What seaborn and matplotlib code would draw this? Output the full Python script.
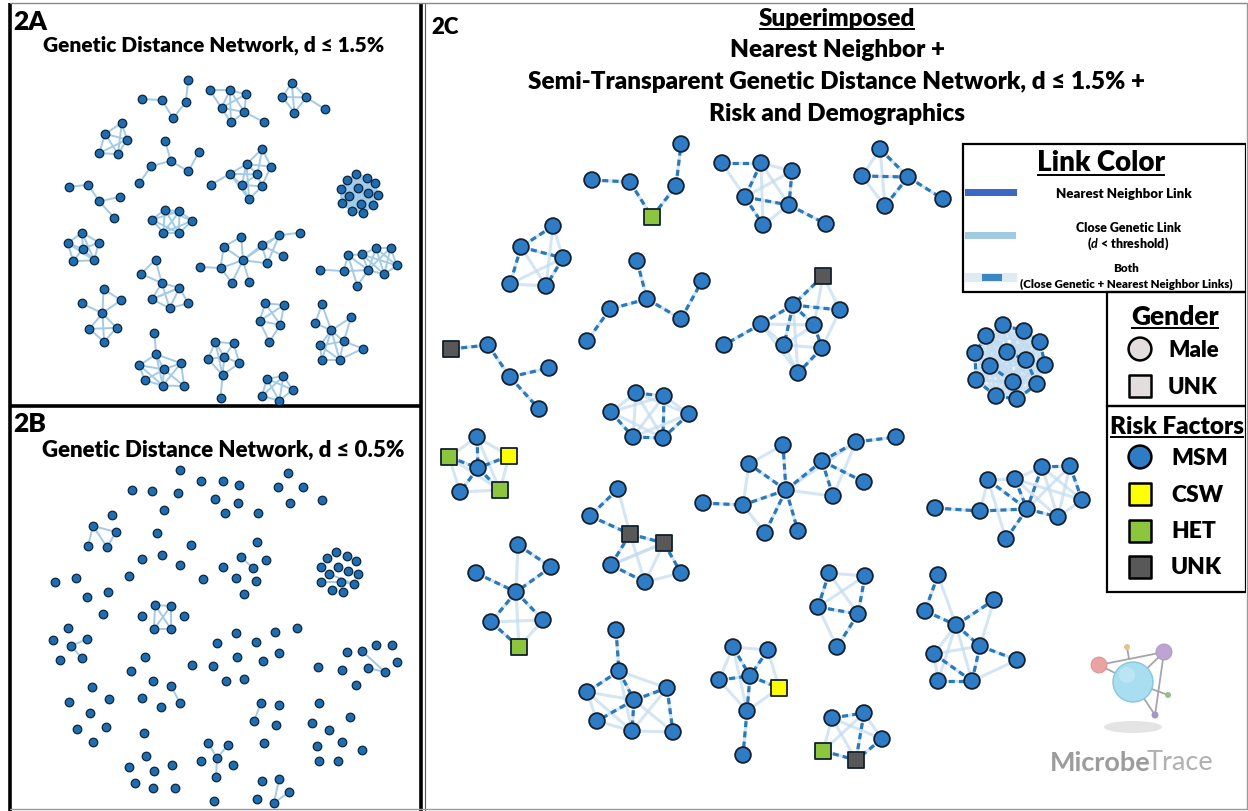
import itertools
import numpy as np
import pandas as pd
import matplotlib
matplotlib.use("Agg")
import matplotlib.pyplot as plt
from matplotlib.collections import LineCollection
from matplotlib.patches import Rectangle, Circle, Ellipse
import seaborn as sns

# ------------------------------------------------------------------
# DATA
# Panel 2C layout (2A shows the same network drawn smaller)
node_ids = [
    "a1", "a2", "a3", "a4", "a5",
    "b1", "b2", "b3", "b4", "b5",
    "c1", "c2", "c3", "c4", "c5", "c6",
    "d1", "d2", "d3", "d4", "d5",
    "e1", "e2", "e3", "e4", "e5", "e6", "e7",
    "f1", "f2", "f3", "f4", "f5",
    "g1", "g2", "g3", "g4", "g5", "g6", "g7", "g8", "g9",
    "h1", "h2", "h3", "h4", "h5", "h6",
    "i1", "i2", "i3", "i4", "i5", "i6", "i7",
    "j1", "j2", "j3", "j4", "j5", "j6", "j7",
    "k1", "k2", "k3", "k4", "k5", "k6",
    "l1", "l2", "l3", "l4", "l5", "l6", "l7", "l8", "l9", "l10", "l11", "l12",
    "n1", "n2", "n3", "n4", "n5", "n6", "n7", "n8", "n9", "n10", "n11", "n12", "n13", "n14",
    "m1", "m2", "m3", "m4", "m5", "m6", "m7", "m8", "m9", "m10",
    "o1", "o2", "o3", "o4", "o5", "o6", "o7", "o8",
    "p1", "p2", "p3", "p4", "p5", "p6", "p7",
    "q1", "q2", "q3", "q4", "q5",
    "r1", "r2", "r3", "r4", "r5", "r6", "r7", "r8", "r9",
    "s1", "s2", "s3", "s4", "s5",
]
node_x = [
    592, 630, 652, 676, 681,
    553, 521, 563, 510, 546,
    637, 647, 610, 587, 681, 702,
    451, 488, 510, 549, 539,
    722, 761, 792, 745, 789, 763, 826,
    880, 862, 908, 885, 943,
    823, 793, 840, 761, 814, 724, 784, 822, 798,
    477, 449, 509, 478, 460, 500,
    618, 590, 630, 664, 611, 645, 681,
    518, 551, 476, 516, 491, 543, 519,
    636, 664, 611, 689, 633, 663,
    783, 749, 822, 856, 896, 864, 786, 833, 703, 743, 765, 798,
    1003, 1024, 986, 1040, 975, 1007, 990, 1026, 1045, 976, 1013, 1037, 996, 1017,
    935, 980, 988, 1015, 1042, 1070, 1082, 1027, 1058, 1006,
    616, 619, 587, 667, 634, 597, 632, 673,
    733, 768, 719, 750, 779, 747, 743,
    829, 865, 818, 858, 837,
    938, 994, 925, 956, 980, 1017, 934, 938, 972,
    832, 864, 882, 823, 856,
]
node_y = [
    181, 183, 218, 187, 145,
    227, 248, 259, 285, 287,
    262, 300, 310, 342, 320, 282,
    350, 346, 378, 369, 410,
    164, 164, 172, 198, 206, 226, 225,
    150, 177, 178, 207, 200,
    277, 306, 311, 325, 326, 346, 346, 349, 374,
    438, 458, 457, 469, 493, 491,
    490, 517, 535, 544, 566, 583, 574,
    546, 568, 574, 593, 623, 621, 648,
    394, 397, 413, 415, 438, 439,
    446, 465, 462, 443, 438, 483, 491, 497, 504, 506, 534, 532,
    326, 332, 337, 343, 354, 353, 367, 361, 366, 381, 383, 385, 397, 400,
    509, 512, 481, 480, 468, 467, 501, 510, 518, 540,
    631, 672, 693, 689, 701, 722, 732, 733,
    648, 651, 681, 677, 689, 712, 756,
    574, 577, 608, 615, 648,
    576, 601, 612, 626, 647, 661, 655, 682, 682,
    719, 714, 740, 752, 761,
]
# nodes that are not MSM / not male (all others: MSM, Male)
special_ids = ["a3", "d1", "g1", "h2", "h3", "h6", "i3", "i4", "j7", "p5", "s4", "s5"]
special_risk = ["HET", "UNK", "UNK", "HET", "CSW", "HET", "UNK", "UNK", "HET", "CSW", "HET", "UNK"]

# nearest-neighbour links (also close genetic links)
nn_edges = [
    "a1-a2", "a2-a3", "a3-a4", "a4-a5",
    "b1-b2", "b2-b3", "b2-b4", "b3-b5",
    "c1-c2", "c2-c3", "c3-c4", "c2-c5", "c5-c6",
    "d1-d2", "d2-d3", "d3-d4", "d3-d5",
    "e1-e2", "e2-e4", "e3-e5", "e4-e5", "e4-e6", "e5-e7",
    "f1-f3", "f2-f3", "f3-f4", "f3-f5",
    "g1-g2", "g2-g3", "g2-g4", "g2-g5", "g2-g7", "g4-g6", "g5-g8", "g8-g9",
    "h1-h4", "h2-h4", "h3-h4", "h4-h6", "h4-h5",
    "i1-i2", "i2-i3", "i3-i4", "i3-i5", "i5-i6", "i4-i7",
    "j1-j2", "j2-j4", "j3-j4", "j4-j5", "j4-j6", "j5-j7",
    "k1-k2", "k2-k6", "k3-k5", "k5-k6", "k4-k6",
    "l7-l1", "l7-l2", "l7-l3", "l7-l10", "l7-l11", "l7-l12", "l9-l10", "l3-l4", "l4-l5", "l3-l6", "l3-l8",
    "n1-n2", "n3-n5", "n5-n10", "n10-n13", "n13-n14", "n14-n12", "n7-n11", "n6-n8", "n4-n9", "n2-n4", "n8-n12",
    "m1-m2", "m2-m8", "m3-m8", "m4-m8", "m5-m8", "m5-m6", "m6-m7", "m8-m9", "m8-m10",
    "o1-o2", "o2-o3", "o2-o5", "o5-o4", "o5-o6", "o5-o7", "o4-o8",
    "p1-p4", "p2-p4", "p3-p4", "p4-p5", "p4-p6", "p6-p7",
    "q1-q3", "q2-q4", "q3-q4", "q4-q5",
    "r1-r3", "r3-r4", "r4-r2", "r4-r5", "r5-r6", "r5-r9", "r7-r9", "r8-r9",
    "s1-s2", "s2-s5", "s3-s5", "s4-s5",
]
# close genetic links only (d <= 1.5%)
gd_edges = [
    "b1-b3", "b4-b5", "b2-b5", "b1-b5", "b3-b4",
    "e2-e3", "e2-e5", "e3-e4", "e1-e4", "e5-e6", "e2-e6",
    "f1-f2", "f2-f4", "f1-f4",
    "g1-g3", "g1-g5", "g4-g7", "g4-g5", "g7-g9", "g5-g7", "g3-g8", "g7-g8", "g2-g9", "g4-g9",
    "h1-h2", "h1-h3", "h2-h5", "h5-h6", "h3-h6", "h1-h6", "h2-h6",
    "i1-i3", "i3-i6", "i4-i6", "i5-i4", "i6-i7", "i4-i5",
    "j1-j4", "j4-j7", "j5-j6", "j6-j7",
    "k1-k3", "k1-k4", "k2-k4", "k1-k5", "k1-k6", "k2-k5", "k3-k6", "k2-k3", "k4-k5",
    "l1-l2", "l2-l10", "l7-l8", "l4-l8", "l10-l11", "l7-l4",
    "m4-m5", "m5-m7", "m5-m9", "m6-m9", "m7-m9", "m4-m7", "m6-m8", "m3-m4", "m4-m9", "m2-m3", "m3-m10",
    "o3-o6", "o6-o7", "o7-o8", "o2-o4", "o3-o5", "o2-o7", "o4-o7", "o5-o8", "o3-o7",
    "p1-p2", "p1-p3", "p2-p5", "p3-p6", "p5-p6", "p1-p6",
    "q1-q2", "q1-q4", "q3-q5", "q2-q3",
    "r1-r4", "r4-r7", "r4-r8", "r4-r9", "r7-r8", "r7-r5", "r6-r9", "r2-r5",
    "s1-s4", "s1-s5", "s2-s4", "s1-s3", "s2-s3",
]
dense_cluster = ["n1", "n2", "n3", "n4", "n5", "n6", "n7", "n8", "n9", "n10", "n11", "n12", "n13", "n14"]

# Panel 2B layout (d <= 0.5%)
b_x = [180, 201, 223, 239, 288, 278, 303, 132, 152, 178, 215, 238, 290, 322, 164, 225, 258,
       112, 93, 116, 88, 107, 157, 191, 257, 142, 162, 180, 241, 266, 223, 253, 203, 236, 256,
       244, 129, 55, 76, 87, 108, 103, 155, 171, 142, 184, 154, 171, 68, 53, 71, 87, 60, 82,
       236, 275, 297, 217, 256, 279, 237, 263, 192, 213, 226, 244, 145, 131, 153, 171, 180,
       142, 161, 92, 109, 69, 90, 77, 106, 93, 144, 146, 129, 154, 172, 135, 153, 175, 208,
       228, 217, 201, 233, 216, 214, 261, 279, 254, 276, 264, 262, 279, 289, 257, 274, 318,
       342, 347, 362, 376, 392, 397, 368, 385, 356, 319, 350, 312, 329, 342, 317, 362, 319,
       338, 336, 327, 347, 356, 321, 338, 348, 329, 358, 321, 341, 354, 332, 343]
b_y = [471, 482, 482, 486, 474, 488, 488, 491, 492, 494, 500, 504, 504, 501, 511, 514, 514,
       516, 527, 533, 547, 548, 534, 546, 543, 560, 556, 566, 558, 561, 568, 569, 580, 579, 582,
       595, 577, 583, 579, 598, 593, 615, 606, 607, 617, 617, 630, 630, 629, 641, 647, 640, 661, 659,
       634, 633, 629, 644, 643, 654, 658, 662, 666, 667, 682, 680, 658, 672, 682, 687, 704,
       699, 708, 688, 700, 703, 714, 730, 728, 743, 734, 757, 768, 772, 766, 784, 789, 789, 744,
       746, 759, 762, 766, 778, 802, 704, 706, 722, 726, 744, 782, 780, 793, 800, 804, 668,
       671, 653, 652, 646, 646, 663, 669, 673, 686, 704, 718, 724, 731, 743, 747, 751, 762,
       762, 553, 559, 557, 562, 568, 568, 572, 575, 575, 583, 583, 585, 591, 593]
b_edges = [((93, 527), (116, 533)), ((93, 527), (88, 547)), ((93, 527), (107, 548)),
           ((116, 533), (107, 548)), ((155, 606), (171, 607)), ((155, 606), (154, 630)),
           ((155, 606), (171, 630)), ((171, 607), (154, 630)), ((171, 607), (171, 630)),
           ((154, 630), (171, 630)), ((71, 647), (87, 640)), ((71, 647), (82, 659)),
           ((241, 558), (253, 569)), ((171, 687), (180, 704)), ((261, 704), (254, 722)),
           ((208, 744), (217, 759)), ((228, 746), (217, 759)), ((217, 759), (216, 778)),
           ((279, 780), (274, 804)), ((289, 793), (274, 804)), ((362, 652), (385, 673)),
           ((368, 669), (385, 673)), ((321, 583), (341, 583)), ((341, 583), (354, 585)),
           ((329, 575), (354, 585))]

risk_levels = ["MSM", "CSW", "HET", "UNK"]
risk_colors = ["#2f7cc6", "#ffff00", "#8cc63e", "#585858"]
link_labels = ["Nearest Neighbor Link", "Close Genetic Link", "Both"]

# ------------------------------------------------------------------
W, H = 1248, 812
sns.set_theme(style="white")
plt.rcParams["font.family"] = ["Lato", "DejaVu Sans"]
plt.rcParams["mathtext.fontset"] = "custom"
plt.rcParams["mathtext.it"] = "Lato:italic:bold"
plt.rcParams["mathtext.rm"] = "Lato:bold"

fig = plt.figure(figsize=(W / 100, H / 100), dpi=100)
fig.patch.set_facecolor("white")
bg = fig.add_axes([0, 0, 1, 1])
bg.set_xlim(0, W)
bg.set_ylim(H, 0)
bg.set_axis_off()


def px_axes(x0, y0, x1, y1):
    ax = fig.add_axes([x0 / W, 1 - y1 / H, (x1 - x0) / W, (y1 - y0) / H])
    ax.set_axis_off()
    ax.patch.set_alpha(0)
    return ax


risk_of = dict(zip(special_ids, special_risk))
nodes = pd.DataFrame({"id": node_ids, "x": node_x, "y": node_y})
nodes["risk"] = [risk_of.get(i, "MSM") for i in node_ids]
nodes["gender"] = np.where(nodes["risk"] == "MSM", "Male", "UNK")
pos = dict(zip(node_ids, zip(node_x, node_y)))
palette = dict(zip(risk_levels, risk_colors))
markers = {"Male": "o", "UNK": "s"}


def segs(edges):
    out = []
    for e in edges:
        a, b = e.split("-")
        out.append([pos[a], pos[b]])
    return out


dense_edges = [f"{a}-{b}" for a, b in itertools.combinations(dense_cluster, 2)]
all_gd = nn_edges + gd_edges + dense_edges

# ---------------- panel frames ----------------
frame_kw = dict(color="black", lw=2.6, solid_capstyle="butt")
bg.plot([10, 10], [4, 812], **frame_kw)
bg.plot([421, 421], [4, 812], **frame_kw)
bg.plot([10, 421], [407, 407], **frame_kw)
bg.plot([425, 425], [4, 812], color="#555555", lw=0.8)
bg.plot([10, 1247], [4, 4], color="#888888", lw=1.0)
bg.plot([10, 1247], [810, 810], color="#999999", lw=1.0)
bg.plot([1246.5, 1246.5], [4, 810], color="#999999", lw=1.0)

# ---------------- 2A ----------------
ax_a = px_axes(12, 58, 420, 405)
ax_a.add_collection(LineCollection(segs(all_gd), colors="#a3cbe8", linewidths=1.4, zorder=1))
sns.scatterplot(data=nodes, x="x", y="y", ax=ax_a, color="#1f6db0", s=38,
                edgecolor="#0b2740", linewidth=0.9, legend=False, zorder=3)
ax_a.set_xlim(342, 1126.6)
ax_a.set_ylim(767.5, 100.2)
ax_a.set_axis_off()

# ---------------- 2B ----------------
ax_b = px_axes(12, 409, 420, 809)
ax_b.add_collection(LineCollection(b_edges, colors="#a3cbe8", linewidths=1.4, zorder=1))
bnodes = pd.DataFrame({"x": b_x, "y": b_y})
sns.scatterplot(data=bnodes, x="x", y="y", ax=ax_b, color="#1f6db0", s=38,
                edgecolor="#0b2740", linewidth=0.9, legend=False, zorder=3)
ax_b.set_xlim(12, 420)
ax_b.set_ylim(809, 409)
ax_b.set_axis_off()

# ---------------- 2C ----------------
ax_c = px_axes(426, 5, 1246, 809)
ax_c.add_collection(LineCollection(segs(gd_edges + dense_edges + nn_edges), colors="#c3dcf0",
                                   linewidths=2.2, alpha=0.7, zorder=1))
ax_c.add_collection(LineCollection(segs(nn_edges), colors="#2a79ba", linewidths=2.3,
                                   linestyles=[(0, (1.9, 1.3))], zorder=2))
sns.scatterplot(data=nodes, x="x", y="y", hue="risk", style="gender", palette=palette,
                markers=markers, ax=ax_c, s=128, edgecolor="#13202e", linewidth=1.3,
                legend=False, zorder=3)
ax_c.set_xlim(426, 1246)
ax_c.set_ylim(809, 5)
ax_c.set_axis_off()

# ---------------- titles ----------------
tkw = dict(fontweight="heavy", color="black")
bg.text(13, 22, "2A", fontsize=19, va="center", ha="left", **tkw)
bg.text(214, 45, "Genetic Distance Network, d \u2264 1.5%", fontsize=15, va="center", ha="center", **tkw)
bg.text(13, 424, "2B", fontsize=19, va="center", ha="left", **tkw)
bg.text(223, 450, "Genetic Distance Network, d \u2264 0.5%", fontsize=16, va="center", ha="center", **tkw)
bg.text(431, 27, "2C", fontsize=16, va="center", ha="left", **tkw)
TCX = 837
t_sup = bg.text(TCX, 19, "Superimposed", fontsize=17.5, va="center", ha="center", **tkw)
bg.text(TCX, 50, "Nearest Neighbor +", fontsize=17.5, va="center", ha="center", **tkw)
bg.text(TCX, 82, "Semi-Transparent Genetic Distance Network, d \u2264 1.5% +", fontsize=17.5,
        va="center", ha="center", **tkw)
bg.text(TCX, 114, "Risk and Demographics", fontsize=17.5, va="center", ha="center", **tkw)

# ---------------- legends ----------------
lw_box = 1.6
ax_c.add_patch(Rectangle((963, 145), 283, 148, fill=False, ec="black", lw=lw_box, zorder=5))
ax_c.add_patch(Rectangle((1107, 293), 139, 114, fill=False, ec="black", lw=lw_box, zorder=5))
ax_c.add_patch(Rectangle((1107, 407), 139, 186, fill=False, ec="black", lw=lw_box, zorder=5))
ax_c.add_patch(Rectangle((1105, 145), 141, 448, fill=True, fc="white", ec="none", zorder=0))
ax_c.add_patch(Rectangle((963, 145), 283, 148, fill=True, fc="white", ec="none", zorder=0))

t_link = ax_c.text(1101, 163, "Link Color", fontsize=20, ha="center", va="center", zorder=6, **tkw)
ax_c.add_patch(Rectangle((965, 190), 52, 7, fc="#3b68c5", ec="none", zorder=6))
ax_c.text(1124, 194, link_labels[0], fontsize=9.5, ha="center", va="center", zorder=6, **tkw)
ax_c.add_patch(Rectangle((965, 233), 51, 7, fc="#9fcae2", ec="none", zorder=6))
ax_c.text(1128, 228, link_labels[1], fontsize=9, ha="center", va="center", zorder=6, **tkw)
ax_c.text(1128, 244, r"($\it{d}$ < threshold)", fontsize=9, ha="center", va="center", zorder=6, **tkw)
ax_c.add_patch(Rectangle((965, 274), 52, 9, fc="#dfeaf5", ec="none", zorder=6))
ax_c.add_patch(Rectangle((982, 275), 20, 7, fc="#3b87c2", ec="none", zorder=7))
ax_c.text(1126, 268, link_labels[2], fontsize=8.5, ha="center", va="center", zorder=6, **tkw)
ax_c.text(1126, 284, "(Close Genetic + Nearest Neighbor Links)", fontsize=8.3, ha="center",
          va="center", zorder=6, **tkw)

t_gen = ax_c.text(1175, 317, "Gender", fontsize=19, ha="center", va="center", zorder=6, **tkw)
gender_items = pd.DataFrame({"x": [1140, 1140], "y": [350, 387], "g": ["Male", "UNK"]})
sns.scatterplot(data=gender_items, x="x", y="y", style="g", markers=markers, ax=ax_c,
                color="#e3dddd", s=270, edgecolor="black", linewidth=1.8, legend=False, zorder=6)
ax_c.text(1168, 350, "Male", fontsize=16, ha="left", va="center", zorder=6, **tkw)
ax_c.text(1168, 387, "UNK", fontsize=16, ha="left", va="center", zorder=6, **tkw)

t_risk = ax_c.text(1177, 427, "Risk Factors", fontsize=17.5, ha="center", va="center", zorder=6, **tkw)
risk_items = pd.DataFrame({"x": [1140] * 4, "y": [458, 495, 532, 568], "risk": risk_levels,
                           "g": ["Male", "UNK", "UNK", "UNK"]})
sns.scatterplot(data=risk_items, x="x", y="y", hue="risk", style="g", palette=palette,
                markers=markers, ax=ax_c, s=270, edgecolor="black", linewidth=1.8,
                legend=False, zorder=6)
for yy, lab in zip(risk_items["y"], risk_levels):
    ax_c.text(1171, yy, lab, fontsize=16.5, ha="left", va="center", zorder=6, **tkw)
ax_c.set_xlim(426, 1246)
ax_c.set_ylim(809, 5)

# ---------------- MicrobeTrace logo ----------------
logo_lines = [((1099, 666), (1164, 653)), ((1164, 653), (1155, 716)), ((1099, 666), (1133, 683)),
              ((1133, 683), (1168, 696)), ((1127, 648), (1129, 660)), ((1164, 653), (1133, 683)),
              ((1133, 683), (1155, 716))]
ax_c.add_collection(LineCollection(logo_lines, colors="#a8a4aa", linewidths=1.3, zorder=4))
ax_c.add_patch(Ellipse((1133, 728), 58, 12, fc="#e4e4e4", ec="none", zorder=3))
ax_c.add_patch(Circle((1133, 683), 20, fc="#a9ddf0", ec="#86c7e0", lw=1, zorder=5))
ax_c.add_patch(Circle((1127, 676), 8, fc="#c8ecf8", ec="none", alpha=0.6, zorder=5))
ax_c.add_patch(Circle((1099, 666), 8, fc="#e9a3a3", ec="#d89090", lw=0.6, zorder=5))
ax_c.add_patch(Circle((1164, 653), 8, fc="#bca5d2", ec="#a990c0", lw=0.6, zorder=5))
ax_c.add_patch(Circle((1127, 648), 3, fc="#e8c28e", ec="none", zorder=5))
ax_c.add_patch(Circle((1168, 696), 3, fc="#8fc18f", ec="none", zorder=5))
ax_c.add_patch(Circle((1155, 716), 3.5, fc="#a496c6", ec="none", zorder=5))
ax_c.text(1151, 763, "Microbe", fontsize=19.5, color="#9c9c9c", ha="right", va="center",
          fontweight="bold", zorder=5)
ax_c.text(1147, 763, "Trace", fontsize=19.5, color="#b0b0b0", ha="left", va="center",
          fontweight="normal", zorder=5)


# ---------------- underlines ----------------
def underline(t, ax, pad=1.5, lw=1.4):
    fig.canvas.draw()
    bb = t.get_window_extent()
    inv = ax.transData.inverted()
    (x0, y0), (x1, _) = inv.transform([(bb.x0, bb.y0), (bb.x1, bb.y0)])
    ax.plot([x0, x1], [y0 - pad, y0 - pad], color="black", lw=lw, zorder=7,
            solid_capstyle="butt")


underline(t_sup, bg, pad=0.0)
underline(t_link, ax_c, pad=0.0)
underline(t_gen, ax_c, pad=0.0)
underline(t_risk, ax_c, pad=0.0)
ax_c.set_xlim(426, 1246)
ax_c.set_ylim(809, 5)
bg.set_xlim(0, W)
bg.set_ylim(H, 0)

fig.savefig("out.png", dpi=100, facecolor="white")
